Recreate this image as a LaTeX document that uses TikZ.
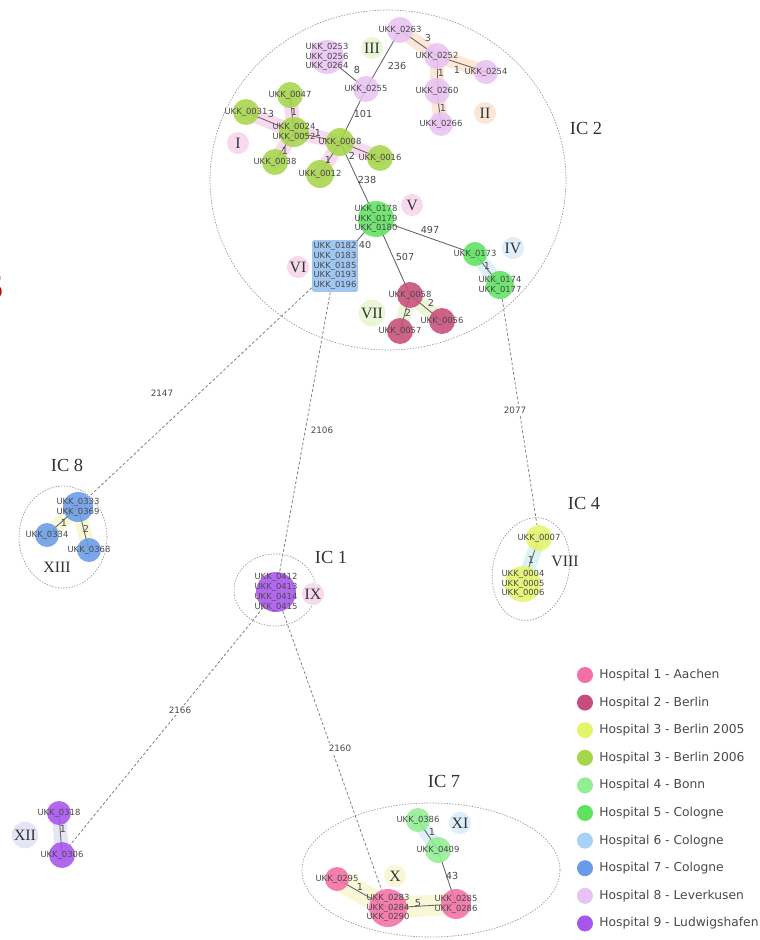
\documentclass[tikz,border=0pt]{standalone}
\usepackage{fontspec}
\setmainfont{Liberation Serif}
\newfontfamily\isofont{DejaVu Sans}
\usetikzlibrary{positioning,backgrounds}
\definecolor{cInk}{HTML}{4A4A4A}
\definecolor{cNum}{HTML}{333333}
\definecolor{hA}{HTML}{F46FA8}
\definecolor{hB}{HTML}{C94D7C}
\definecolor{hBa}{HTML}{E4F56C}
\definecolor{hBb}{HTML}{A6D64A}
\definecolor{hBo}{HTML}{93EE93}
\definecolor{hCa}{HTML}{5FE35F}
\definecolor{hCb}{HTML}{A9D0F5}
\definecolor{hCc}{HTML}{6A9BE8}
\definecolor{hL}{HTML}{E9C3F3}
\definecolor{hLu}{HTML}{A855EE}
\definecolor{pPink}{HTML}{F8DAEE}
\definecolor{pPeach}{HTML}{FCE6D6}
\definecolor{pGreen}{HTML}{EAF6D6}
\definecolor{pBlue}{HTML}{DEEEFB}
\definecolor{pYel}{HTML}{F9F8D6}
\definecolor{pCyan}{HTML}{DCF2F4}
\definecolor{pLav}{HTML}{E5E5F5}
\tikzset{
  every node/.style={text=cInk},
  iso/.style={circle, fill=#1, fill opacity=.88, text opacity=1, minimum size=.52cm, inner sep=0pt},
  blk/.style={rectangle, rounded corners=1pt, fill=hCb!70!hCc, fill opacity=.9, minimum width=.92cm, minimum height=1.04cm, inner sep=0pt},
  lbl/.style={font=\isofont\fontsize{4.8}{5.6}\selectfont, text=cInk, text opacity=1, fill opacity=1, align=center, inner sep=0pt},
  lbltight/.style={lbl, font=\isofont\fontsize{4.8}{4.5}\selectfont},
  w/.style={font=\isofont\fontsize{5.5}{6}\selectfont, inner sep=0pt, text=cInk},
  dlab/.style={font=\isofont\fontsize{5}{6}\selectfont, inner sep=1pt, text=cInk},
  clab/.style={circle, fill=#1, inner sep=.5pt, minimum size=.44cm, font=\fontsize{9}{9}\selectfont, text=cNum},
  ictitle/.style={font=\fontsize{10.5}{11}\selectfont, text=cNum, inner sep=0pt},
  hull/.style={draw=cInk!55, line width=.4pt, dash pattern=on .8pt off .8pt},
  far/.style={draw=cInk!70, line width=.45pt, dash pattern=on 1.6pt off 1.2pt},
  link/.style={draw=cInk!85, line width=.5pt},
  halo/.style={draw=#1, line width=8pt, line cap=round, line join=round},
  legdot/.style={circle, fill=#1, minimum size=.32cm, inner sep=0pt},
  legtxt/.style={font=\isofont\fontsize{7}{8}\selectfont, text=cInk, inner sep=0pt, anchor=west},
}
\begin{document}
\begin{tikzpicture}[x=0.02cm, y=-0.02cm]
\begin{scope}[on background layer]
\fill[white] (0,0) rectangle (760,940);
\end{scope}
\useasboundingbox (0,0) rectangle (760,940);

% ---------------- cluster hulls
\draw[hull] (388,180) ellipse [x radius=178, y radius=170];
\draw[hull] (63,537) ellipse [x radius=44, y radius=51];
\draw[hull] (275,590) ellipse [x radius=41, y radius=36];
\draw[hull, rotate around={-13:(531,569)}] (531,569) ellipse [x radius=38, y radius=52];
\draw[hull] (431,870) ellipse [x radius=129, y radius=67];
\node[ictitle] (t2) at (586,128) {IC 2};
\node[ictitle] (t8) at (67,465) {IC 8};
\node[ictitle] (t1) at (331,557) {IC 1};
\node[ictitle] (t4) at (584,503) {IC 4};
\node[ictitle] (t7) at (444,781) {IC 7};

% ---------------- IC 2
\node[clab=pPink] (cI) at (238,143) {I};
\node[clab=pPeach] (cII) at (485,113) {II};
\node[clab=pGreen] (cIII) at (372,48) {III};
\node[clab=pBlue] (cIV) at (513,248) {IV};
\node[clab=pPink] (cV) at (412,205) {V};
\node[clab=pPink] (cVI) at (298,267) {VI};
\node[clab=pGreen] (cVII) at (372,313) {VII};
\node[iso=hL, label={[lbl]center:UKK\_0263}] (n263) at (400,30) {};
\node[iso=hL, label={[lbl]center:UKK\_0252}] (n252) at (437,56) {};
\node[iso=hL, minimum size=.48cm, label={[lbl]center:UKK\_0254}] (n254) at (486,72) {};
\node[iso=hL, label={[lbl]center:UKK\_0260}] (n260) at (437,91) {};
\node[iso=hL, minimum size=.48cm, label={[lbl]center:UKK\_0266}] (n266) at (441,124) {};
\node[iso=hL, minimum size=.68cm, label={[lbl]center:UKK\_0253\\UKK\_0256\\UKK\_0264}] (n253) at (327,57) {};
\node[iso=hL, label={[lbl]center:UKK\_0255}] (n255) at (366,89) {};
\node[iso=hBb, label={[lbl]center:UKK\_0047}] (n047) at (290,95) {};
\node[iso=hBb, label={[lbl]center:UKK\_0031}] (n031) at (246,112) {};
\node[iso=hBb, minimum size=.6cm, label={[lbl]center:UKK\_0024\\UKK\_0052}] (n024) at (294,132) {};
\node[iso=hBb, label={[lbl]center:UKK\_0038}] (n038) at (275,162) {};
\node[iso=hBb, minimum size=.56cm, label={[lbl]center:UKK\_0008}] (n008) at (340,142) {};
\node[iso=hBb, minimum size=.56cm, label={[lbl]center:UKK\_0012}] (n012) at (320,174) {};
\node[iso=hBb, label={[lbl]center:UKK\_0016}] (n016) at (380,158) {};
\node[iso=hCa, minimum size=.72cm, label={[lbl]center:UKK\_0178\\UKK\_0179\\UKK\_0180}] (n178) at (376,219) {};
\node[iso=hCa, minimum size=.48cm, label={[lbl]center:UKK\_0173}] (n173) at (475,254) {};
\node[iso=hCa, minimum size=.56cm, label={[lbl]center:UKK\_0174\\UKK\_0177}] (n174) at (500,285) {};
\node[blk, label={[lbl]center:UKK\_0182\\UKK\_0183\\UKK\_0185\\UKK\_0193\\UKK\_0196}] (n182) at (335,266) {};
\node[iso=hB, label={[lbl]center:UKK\_0058}] (n058) at (410,295) {};
\node[iso=hB, label={[lbl]center:UKK\_0056}] (n056) at (442,321) {};
\node[iso=hB, label={[lbl]center:UKK\_0057}] (n057) at (400,331) {};

% ---------------- IC 8
\node[iso=hCc, minimum size=.6cm, label={[lbltight]center:UKK\_0333\\UKK\_0369}] (n333) at (78,507) {};
\node[iso=hCc, minimum size=.48cm, label={[lbl]center:UKK\_0334}] (n334) at (47,535) {};
\node[iso=hCc, minimum size=.48cm, label={[lbl]center:UKK\_0368}] (n368) at (89,550) {};
\node[clab=none, fill=none] (cXIII) at (57,567) {XIII};

% ---------------- IC 1
\node[iso=hLu, minimum size=.8cm, label={[lbltight]center:UKK\_0412\\UKK\_0413\\UKK\_0414\\UKK\_0415}] (n412) at (276,592) {};
\node[clab=pPink] (cIX) at (313,594) {IX};

% ---------------- IC 4
\node[iso=hBa, label={[lbl]center:UKK\_0007}] (n007) at (539,538) {};
\node[iso=hBa, minimum size=.72cm, label={[lbl]center:UKK\_0004\\UKK\_0005\\UKK\_0006}] (n004) at (523,584) {};
\node[clab=none, fill=none] (cVIII) at (565,561) {VIII};

% ---------------- XII
\node[iso=hLu, minimum size=.48cm, label={[lbl]center:UKK\_0318}] (n318) at (59,813) {};
\node[iso=hLu, label={[lbl]center:UKK\_0306}] (n306) at (62,855) {};
\node[clab=pLav] (cXII) at (25,835) {XII};

% ---------------- IC 7
\node[clab=pYel] (cX) at (395,876) {X};
\node[clab=pBlue] (cXI) at (460,823) {XI};
\node[iso=hBo, minimum size=.48cm, label={[lbl]center:UKK\_0386}] (n386) at (418,820) {};
\node[iso=hBo, label={[lbl]center:UKK\_0409}] (n409) at (438,850) {};
\node[iso=hA, minimum size=.48cm, label={[lbl]center:UKK\_0295}] (n295) at (337,879) {};
\node[iso=hA, minimum size=.76cm, label={[lbl]center:UKK\_0283\\UKK\_0284\\UKK\_0290}] (n283) at (388,908) {};
\node[iso=hA, minimum size=.6cm, label={[lbl]center:UKK\_0285\\UKK\_0286}] (n285) at (456,904) {};

% ---------------- shading, links
\begin{scope}[on background layer]
\foreach \a/\b in {n031/n024, n047/n024, n024/n008, n024/n038, n008/n012, n008/n016}
  \draw[halo=pPink] (\a.center) -- (\b.center);
\foreach \a/\b in {n263/n252, n252/n254, n252/n260, n260/n266}
  \draw[halo=pPeach] (\a.center) -- (\b.center);
\foreach \a/\b in {n058/n057, n058/n056}
  \draw[halo=pGreen] (\a.center) -- (\b.center);
\draw[halo=pBlue] (n173.center) -- (n174.center);
\draw[halo=pCyan] (n007.center) -- (n004.center);
\foreach \a/\b in {n333/n334, n333/n368}
  \draw[halo=pYel] (\a.center) -- (\b.center);
\draw[halo=pLav] (n318.center) -- (n306.center);
\foreach \a/\b in {n295/n283, n283/n285}
  \draw[halo=pYel, line width=12pt] (\a.center) -- (\b.center);
\draw[halo=pBlue] (n386.center) -- (n409.center);
\foreach \a/\b in {n263/n252, n252/n254, n252/n260, n260/n266, n253/n255, n255/n263,
  n255/n008, n031/n024, n047/n024, n024/n008, n024/n038, n008/n012, n008/n016,
  n008/n178, n178/n173, n173/n174, n178/n182, n178/n058, n058/n056, n058/n057,
  n333/n334, n333/n368, n007/n004, n318/n306, n386/n409, n409/n285, n295/n283, n283/n285}
  \draw[link] (\a.center) -- (\b.center);
\foreach \a/\b in {n182/n333, n182/n412, n174/n007, n412/n306, n412/n283}
  \draw[far] (\a) -- (\b);
\end{scope}

% link weights
\foreach \p/\t in {{428,38}/3, {457,70}/1, {441,73}/1, {443,108}/1, {357,70}/8, {397,66}/236,
  {363,114}/101, {271,114}/3, {294,112}/1, {318,133}/1, {285,151}/1, {328,160}/1, {352,156}/2,
  {367,180}/238, {430,230}/497, {487,266}/1, {365,245}/40, {405,257}/507, {431,303}/2, {408,313}/2,
  {64,523}/1, {86,529}/2, {531,560}/1, {63,829}/1, {432,832}/1, {452,876}/43, {360,887}/1, {418,903}/5}
  \node[w] at (\p) {\t};
\foreach \p/\t in {{162,393}/2147, {322,430}/2106, {515,410}/2077, {180,710}/2166, {340,748}/2160}
  \node[dlab, fill=white] at (\p) {\t};

% ---------------- legend
\foreach \c/\t [count=\i from 0] in {hA/Hospital 1 - Aachen, hB/Hospital 2 - Berlin,
  hBa/Hospital 3 - Berlin 2005, hBb/Hospital 3 - Berlin 2006, hBo/Hospital 4 - Bonn,
  hCa/Hospital 5 - Cologne, hCb/Hospital 6 - Cologne, hCc/Hospital 7 - Cologne,
  hL/Hospital 8 - Leverkusen, hLu/Hospital 9 - Ludwigshafen}{
  \node[legdot=\c] (ld\i) at (585,{675+27.6*\i}) {};
  \node[legtxt, right=4pt of ld\i.center, xshift=4pt] (lt\i) {\t};
}

% cut-off mark at the left edge
\node[anchor=east, inner sep=0pt, font=\bfseries\fontsize{24}{24}\selectfont, text=red!80!black] (cut) at (4,286) {3};
\end{tikzpicture}
\end{document}
